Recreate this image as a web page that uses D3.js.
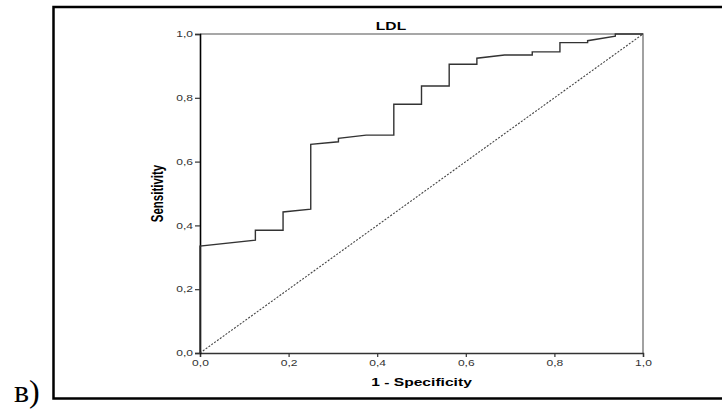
<!DOCTYPE html>
<html><head><meta charset="utf-8">
<script src="https://cdn.jsdelivr.net/npm/d3@7/dist/d3.min.js"></script>
<style>
html,body{margin:0;padding:0;background:#fff;}
svg{display:block;}
</style></head>
<body>
<script>
// ROC curve for LDL (1 - Specificity, Sensitivity)
const fpr  = [0, 0, 0.125, 0.125, 0.1875, 0.1875, 0.25, 0.25, 0.3125, 0.3125, 0.375, 0.4375, 0.4375, 0.5, 0.5, 0.5625, 0.5625, 0.625, 0.625, 0.6875, 0.75, 0.75, 0.8125, 0.8125, 0.875, 0.875, 0.9375, 0.9375, 1];
const sens = [0, 0.335, 0.354, 0.385, 0.385, 0.442, 0.451, 0.654, 0.662, 0.673, 0.683, 0.683, 0.78, 0.78, 0.837, 0.837, 0.905, 0.905, 0.924, 0.934, 0.934, 0.944, 0.944, 0.973, 0.973, 0.979, 0.993, 1, 1];
const refX = [0, 1];
const refY = [0, 1];
const tickValues = [0, 0.2, 0.4, 0.6, 0.8, 1.0];
const chartTitle = "LDL";
const xTitle = "1 - Specificity";
const yTitle = "Sensitivity";
const panelLabel = "в)";

(function () {
const W = 722, H = 409;
const pL = 200, pR = 643, pT = 34, pB = 353;
const SX = 1.42; // horizontal stretch of the original image's text

const svg = d3.select("body").append("svg").attr("width", W).attr("height", H);

// outer frame (open on the right)
svg.append("path")
  .attr("d", `M${W+5},7 H53.5 V398.5 H${W+5}`)
  .attr("fill", "none").attr("stroke", "#000").attr("stroke-width", 2.5);

// panel label
svg.append("text").attr("x", 14).attr("y", 402)
  .attr("font-family", "Liberation Serif, Times New Roman, serif")
  .attr("font-size", 32).attr("fill", "#000").text(panelLabel);

const x = d3.scaleLinear().domain([0, 1]).range([pL, pR]);
const y = d3.scaleLinear().domain([0, 1]).range([pB, pT]);

// top and right border (grey)
svg.append("path")
  .attr("d", `M${pL},${pT} H${pR} V${pB}`)
  .attr("fill", "none").attr("stroke", "#8a8a8a").attr("stroke-width", 1.6);

const fmt = d => d.toFixed(1).replace(".", ",");

// x axis
const gx = svg.append("g").attr("transform", `translate(0,${pB})`)
  .call(d3.axisBottom(x).tickValues(tickValues).tickFormat(fmt).tickSizeOuter(0).tickSize(4).tickPadding(3));
gx.select(".domain").attr("stroke", "#333").attr("stroke-width", 1.4);
gx.selectAll(".tick line").attr("stroke", "#333").attr("stroke-width", 1.2);
gx.selectAll(".tick text")
  .attr("font-family", "Liberation Sans, Arial, sans-serif").attr("font-size", 8.5).attr("fill", "#333")
  .attr("transform", `scale(${SX},1)`);

// y axis
const gy = svg.append("g").attr("transform", `translate(${pL},0)`)
  .call(d3.axisLeft(y).tickValues(tickValues).tickFormat(fmt).tickSizeOuter(0).tickSize(5).tickPadding(2));
gy.select(".domain").attr("stroke", "#000").attr("stroke-width", 1.6);
gy.selectAll(".tick line").attr("stroke", "#333").attr("stroke-width", 1.2);
gy.selectAll(".tick text")
  .attr("font-family", "Liberation Sans, Arial, sans-serif").attr("font-size", 8.5).attr("fill", "#333")
  .attr("x", -7 / SX)
  .attr("transform", `scale(${SX},1)`);

// diagonal reference line
svg.append("path")
  .datum(refX.map((v, i) => [v, refY[i]]))
  .attr("d", d3.line().x(d => x(d[0])).y(d => y(d[1])))
  .attr("fill", "none").attr("stroke", "#444").attr("stroke-width", 1.1)
  .attr("stroke-dasharray", "2,1.5");

// ROC curve
svg.append("path")
  .datum(fpr.map((v, i) => [v, sens[i]]))
  .attr("d", d3.line().x(d => x(d[0])).y(d => y(d[1])))
  .attr("fill", "none").attr("stroke", "#333").attr("stroke-width", 1.4);

// titles
svg.append("text")
  .attr("transform", `translate(391,29.5) scale(${SX},1)`)
  .attr("text-anchor", "middle")
  .attr("font-family", "Liberation Sans, Arial, sans-serif").attr("font-weight", "bold")
  .attr("font-size", 11).attr("fill", "#000").text(chartTitle);

svg.append("text")
  .attr("transform", `translate(${(pL + pR) / 2},386) scale(${SX},1)`)
  .attr("text-anchor", "middle")
  .attr("font-family", "Liberation Sans, Arial, sans-serif").attr("font-weight", "bold")
  .attr("font-size", 11).attr("fill", "#000").text(xTitle);

svg.append("text")
  .attr("transform", `translate(163,${(pT + pB) / 2}) scale(${SX},1) rotate(-90)`)
  .attr("text-anchor", "middle")
  .attr("font-family", "Liberation Sans, Arial, sans-serif").attr("font-weight", "bold")
  .attr("font-size", 11.5).attr("fill", "#000").text(yTitle);
})();
</script>
</body></html>
